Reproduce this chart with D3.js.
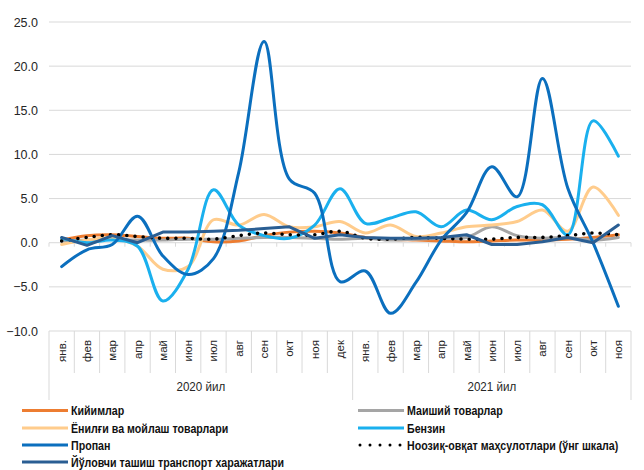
<!DOCTYPE html>
<html><head><meta charset="utf-8">
<script src="https://cdn.jsdelivr.net/npm/d3@7/dist/d3.min.js"></script>
<style>
body{margin:0;background:#fff;}
svg{display:block;}
</style></head>
<body>
<svg id="c" width="644" height="470"></svg>
<script>
const months = ["янв.","фев","мар","апр","май","июн","июл","авг","сен","окт","ноя","дек",
                "янв.","фев","мар","апр","май","июн","июл","авг","сен","окт","ноя"];
const years = [{label:"2020 йил", start:0, end:12},{label:"2021 йил", start:12, end:23}];
const yTicks = [-10,-5,0,5,10,15,20,25];

const kiyim    = [0.3,0.8,0.9,0.7,0.5,0.5,0.1,0.2,0.8,1.2,1.3,1.1, 0.6,0.4,0.3,0.2,0.1,0.2,0.3,0.3,0.4,0.6,0.9];
const maishiy  = [0.2,0.3,0.4,0.3,0.3,0.4,0.4,0.5,0.6,0.6,0.5,0.4, 0.5,0.3,0.4,0.5,0.6,1.8,0.8,0.5,0.6,0.3,0.6];
const yonilgi  = [-0.2,0.3,0.5,-0.4,-3.0,-2.7,2.6,2.0,3.2,1.8,1.8,2.4, 1.1,2.0,0.7,1.1,1.8,2.0,2.4,3.7,1.3,6.3,3.1];
const benzin   = [0.5,0.0,0.3,-0.4,-6.6,-3.0,6.0,2.0,0.8,0.5,2.0,6.1, 2.2,2.8,3.5,1.8,3.7,2.6,4.1,4.3,0.9,13.8,9.8];
const propan   = [-2.7,-0.8,-0.2,3.0,-1.5,-3.6,-1.8,8.0,22.8,7.2,5.6,-4.4, -3.2,-8.0,-4.5,0.3,3.4,8.6,5.2,18.6,6.2,0.0,-7.2];
const noozik   = [0.2,0.6,0.9,0.7,0.5,0.5,0.4,0.8,1.1,0.9,0.9,1.3, 0.5,0.4,0.6,0.5,0.4,0.4,0.6,0.6,0.8,1.1,0.9];
const yulovchi = [0.6,-0.3,0.8,0.0,1.2,1.2,1.3,1.4,1.6,1.8,0.5,0.9, 0.6,0.5,0.5,0.6,0.9,-0.2,-0.2,0.1,0.6,0.0,2.0];

const series = [
  {name:"Кийимлар", data:kiyim, color:"#ED7D31", smooth:true},
  {name:"Маиший товарлар", data:maishiy, color:"#A5A5A5", smooth:true},
  {name:"Ёнилғи ва мойлаш товарлари", data:yonilgi, color:"#FFCC8C", smooth:true},
  {name:"Бензин", data:benzin, color:"#1AB0EE", smooth:true},
  {name:"Пропан", data:propan, color:"#0B6FBE", smooth:true},
  {name:"Ноозиқ-овқат маҳсулотлари (ўнг шкала)", data:noozik, color:"#000", smooth:true, dotted:true},
  {name:"Йўловчи ташиш транспорт харажатлари", data:yulovchi, color:"#2A5E93", smooth:false}
];

const svg = d3.select("#c");
const pL = 49, pR = 631, pT = 22, pB = 331;
const x = d3.scaleBand().domain(d3.range(months.length)).range([pL,pR]);
const y = d3.scaleLinear().domain([-10,25]).range([pB,pT]);
const cx = i => x(i) + x.bandwidth()/2;

// gridlines
svg.append("g").selectAll("line").data(yTicks).join("line")
  .attr("x1",pL).attr("x2",pR).attr("y1",d=>y(d)).attr("y2",d=>y(d))
  .attr("stroke","#D9D9D9").attr("stroke-width",1);

// y labels
svg.append("g").selectAll("text").data(yTicks).join("text")
  .attr("x",38).attr("y",d=>y(d)+4.5).attr("text-anchor","end")
  .attr("font-family","Liberation Sans, Arial, sans-serif").attr("font-size",12.5)
  .attr("fill","#262626").text(d=>d3.format(".1f")(d));

// zero axis ticks
const bounds = d3.range(months.length+1).map(i => i<months.length ? x(i) : pR);
svg.append("g").selectAll("line").data(bounds).join("line")
  .attr("x1",d=>d).attr("x2",d=>d).attr("y1",y(0)).attr("y2",y(0)+4)
  .attr("stroke","#D9D9D9");

// bottom category separators
const yearEdges = [0,12,23];
svg.append("g").selectAll("line").data(d3.range(months.length+1)).join("line")
  .attr("x1",i=>bounds[i]).attr("x2",i=>bounds[i])
  .attr("y1",pB).attr("y2",i=> yearEdges.includes(i) ? 400 : 373)
  .attr("stroke","#D9D9D9");

// month labels
svg.append("g").selectAll("text").data(months).join("text")
  .attr("transform",(d,i)=>`translate(${cx(i)+4},340) rotate(-90)`)
  .attr("text-anchor","end")
  .attr("font-family","Liberation Sans, Arial, sans-serif").attr("font-size",11.5)
  .attr("fill","#262626").text(d=>d);

// year labels (narrow)
svg.append("g").selectAll("text").data(years).join("text")
  .attr("transform",d=>`translate(${(bounds[d.start]+bounds[d.end])/2},391) scale(0.86,1)`)
  .attr("text-anchor","middle")
  .attr("font-family","Liberation Sans, Arial, sans-serif").attr("font-size",13.5)
  .attr("fill","#262626").text(d=>d.label);

// lines
const g = svg.append("g");
series.forEach(s=>{
  const line = d3.line().x((d,i)=>cx(i)).y(d=>y(d))
    .curve(s.smooth ? d3.curveCatmullRom.alpha(0.5) : d3.curveLinear);
  const p = g.append("path").datum(s.data).attr("d",line)
    .attr("fill","none").attr("stroke",s.color);
  if(s.dotted){
    p.attr("stroke-width",3.6).attr("stroke-linecap","round").attr("stroke-dasharray","0 8.2");
  } else {
    p.attr("stroke-width",3).attr("stroke-linejoin","round").attr("stroke-linecap","round");
  }
});

// legend
const legendItems = [
  {s:series[0], x:22, y:410.5},
  {s:series[2], x:22, y:428},
  {s:series[4], x:22, y:445},
  {s:series[6], x:22, y:462},
  {s:series[1], x:358, y:410.5},
  {s:series[3], x:358, y:428},
  {s:series[5], x:358, y:445}
];
const lg = svg.append("g");
legendItems.forEach(it=>{
  const ln = lg.append("line").attr("x1",it.x).attr("x2",it.x+46)
    .attr("y1",it.y).attr("y2",it.y).attr("stroke",it.s.color);
  if(it.s.dotted){
    ln.attr("x1",it.x+2).attr("x2",it.x+44).attr("stroke-width",3).attr("stroke-linecap","round").attr("stroke-dasharray","0 10");
  } else ln.attr("stroke-width",3);
  lg.append("text").attr("transform",`translate(${it.x+49},${it.y+4.5}) scale(0.82,1)`)
    .attr("font-family","Liberation Sans, Arial, sans-serif")
    .attr("font-size",13).attr("font-weight","bold").attr("fill","#111")
    .text(it.s.name);
});
</script>
</body></html>
